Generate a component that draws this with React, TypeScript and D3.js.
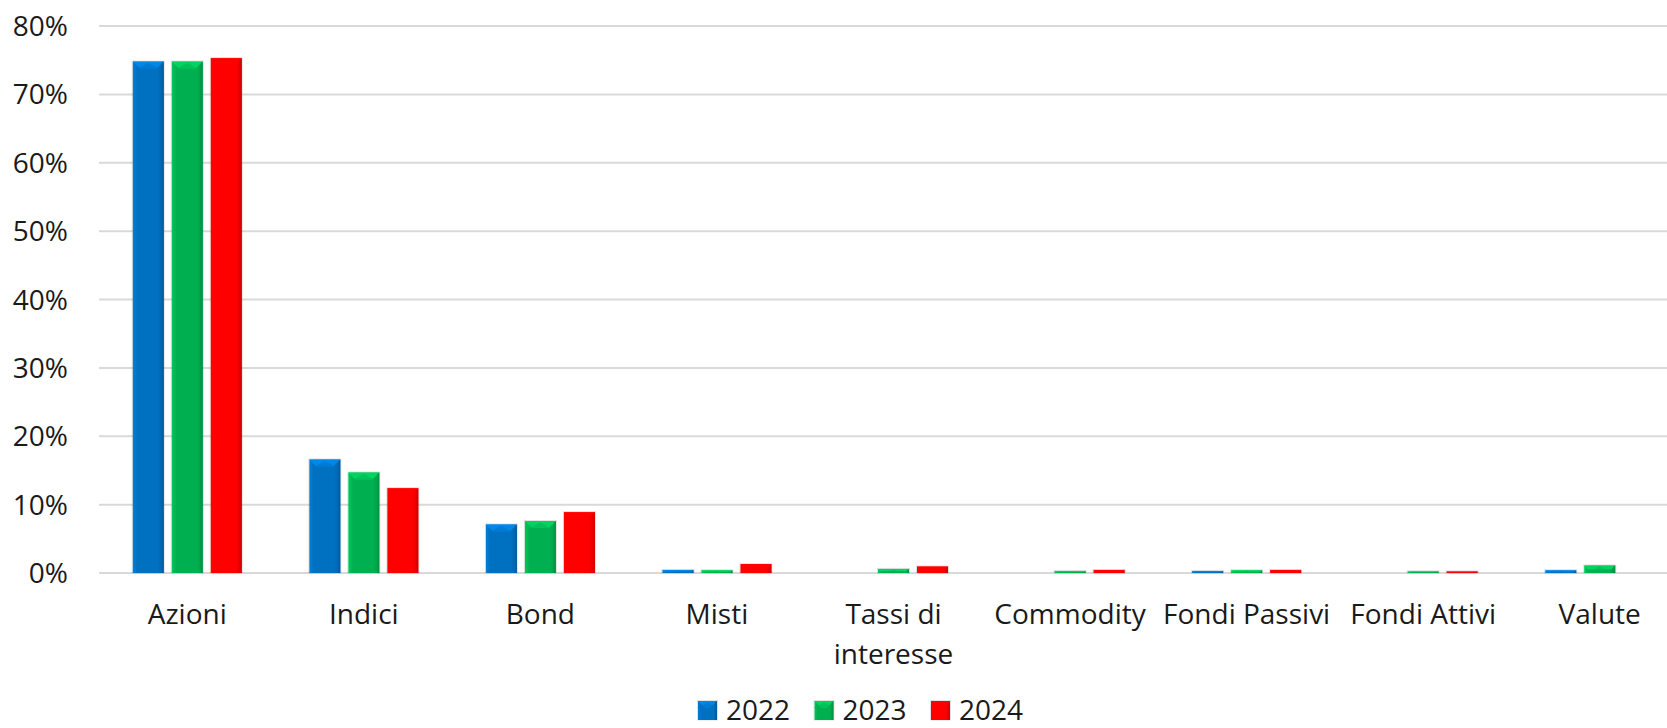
import React from "react";
import * as d3 from "d3";

const categories = ["Azioni", "Indici", "Bond", "Misti", "Tassi di\ninteresse", "Commodity", "Fondi Passivi", "Fondi Attivi", "Valute"];
const years = ["2022", "2023", "2024"];
const values2022 = [74.8, 16.6, 7.1, 0.45, 0, 0, 0.3, 0, 0.4];
const values2023 = [74.8, 14.7, 7.6, 0.4, 0.6, 0.3, 0.4, 0.25, 1.1];
const values2024 = [75.3, 12.4, 8.9, 1.3, 0.95, 0.45, 0.45, 0.25, 0];
const yTicks = [0, 10, 20, 30, 40, 50, 60, 70, 80];

const seriesValues = [values2022, values2023, values2024];
const colors = ["#0070C0", "#00B050", "#FF0000"];

const W = 1667;
const H = 728;
const FONT = "'Open Sans', 'Noto Sans', sans-serif";

function Bar({ x, y, w, h, i }: { x: number; y: number; w: number; h: number; i: number }) {
  const base = colors[i];
  const light = d3.color(base)!.brighter(0.6).formatHex();
  const dark = d3.color(base)!.darker(0.5).formatHex();
  if (h <= 0) return null;
  const b = Math.min(7, h / 2);
  return (
    <g>
      <rect x={x - 0.5} y={y - 0.5} width={w + 1} height={h + 0.5} fill="none" stroke="#000" strokeOpacity={0.12} strokeWidth={1} />
      <rect x={x} y={y} width={w} height={h} fill={`url(#grad${i})`} />
      {h > 2 && (
        <>
          <polygon points={`${x},${y} ${x + w},${y} ${x + w - b},${y + b} ${x + b},${y + b}`} fill={light} opacity={0.85} />
          <polygon points={`${x + w / 2 - b * 1.5},${y + b} ${x + w / 2 + b * 1.5},${y + b} ${x + w / 2},${y + b * 0.2}`} fill={base} opacity={0.5} />
          <polygon points={`${x + w},${y} ${x + w},${y + h} ${x + w - 2},${y + h} ${x + w - 2},${y + 2}`} fill={dark} opacity={0.8} />
        </>
      )}
    </g>
  );
}

export default function App() {
  const x0 = d3.scaleBand<string>().domain(categories).range([99, 1688]).paddingInner(0).paddingOuter(0);
  const x1 = d3.scaleBand<string>().domain(years).range([0, 117]).paddingInner(0.205).paddingOuter(0.1025);
  const y = d3.scaleLinear().domain([0, 80]).range([573, 26]);

  const legendX = d3.scalePoint<string>().domain(years).range([698, 931]);

  return (
    <svg width={W} height={H} style={{ position: "absolute", left: 0, top: 0, background: "#fff" }} fontFamily={FONT}>
      <defs>
        {colors.map((c, i) => {
          const light = d3.color(c)!.brighter(0.35).formatHex();
          const dark = d3.color(c)!.darker(0.35).formatHex();
          return (
            <linearGradient key={i} id={`grad${i}`} x1="0" x2="1" y1="0" y2="0">
              <stop offset="0" stopColor={light} />
              <stop offset="0.15" stopColor={c} />
              <stop offset="0.8" stopColor={c} />
              <stop offset="1" stopColor={dark} />
            </linearGradient>
          );
        })}
      </defs>
      {yTicks.map((t) => (
        <g key={t}>
          <line x1={99} x2={1700} y1={y(t)} y2={y(t)} stroke="#d9d9d9" strokeWidth={2} />
          <text x={68} y={y(t) + 10} textAnchor="end" fontSize={28} fill="#1a1a1a">
            {t}%
          </text>
        </g>
      ))}
      {categories.map((cat, ci) => {
        const cx = x0(cat)! + x0.bandwidth() / 2;
        const gx = cx - 58.5;
        return (
          <g key={cat}>
            {years.map((yr, si) => {
              const v = seriesValues[si][ci];
              const top = y(v);
              return <Bar key={yr} x={gx + x1(yr)!} y={top} w={x1.bandwidth()} h={y(0) - top} i={si} />;
            })}
            {cat.split("\n").map((line, li) => (
              <text key={li} x={cx} y={624 + li * 40} textAnchor="middle" fontSize={28} fill="#1a1a1a">
                {line}
              </text>
            ))}
          </g>
        );
      })}
      {years.map((yr, si) => {
        const lx = legendX(yr)!;
        return (
          <g key={yr}>
            <Bar x={lx} y={701} w={19} h={19} i={si} />
            <text x={lx + 28} y={720} fontSize={28} fill="#1a1a1a">
              {yr}
            </text>
          </g>
        );
      })}
    </svg>
  );
}
